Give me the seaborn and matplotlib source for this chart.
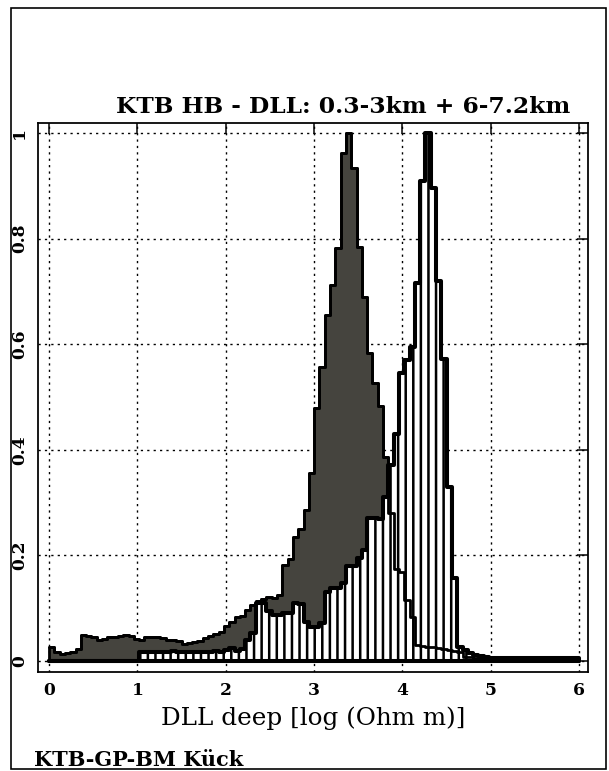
import numpy as np
import pandas as pd
import matplotlib
matplotlib.use("Agg")
import matplotlib.pyplot as plt
import seaborn as sns
from matplotlib.patches import Rectangle

# ---------------- data ----------------
BIN_WIDTH = 0.06
bin_edges = [round(i * BIN_WIDTH, 2) for i in range(101)]       # 0 ... 6
bin_centers = [round((a + b) / 2, 3) for a, b in zip(bin_edges[:-1], bin_edges[1:])]

# solid (dark) histogram, normalised to max = 1
solid_hist = [
    0.026, 0.016, 0.014, 0.015, 0.016, 0.022, 0.049, 0.048, 0.045, 0.040,
    0.041, 0.045, 0.046, 0.047, 0.049, 0.048, 0.041, 0.040, 0.045, 0.046,
    0.045, 0.044, 0.040, 0.039, 0.037, 0.032, 0.033, 0.036, 0.037, 0.044,
    0.047, 0.051, 0.054, 0.066, 0.073, 0.083, 0.086, 0.096, 0.105, 0.113,
    0.118, 0.121, 0.120, 0.125, 0.181, 0.194, 0.235, 0.250, 0.286, 0.356,
    0.480, 0.557, 0.655, 0.712, 0.782, 0.962, 1.000, 0.934, 0.785, 0.690,
    0.583, 0.526, 0.482, 0.387, 0.280, 0.175, 0.169, 0.115, 0.083, 0.031,
    0.029, 0.027, 0.026, 0.024, 0.022, 0.020, 0.018, 0.016, 0.008, 0.007,
    0.006, 0.006, 0.005, 0.005, 0.005, 0.006, 0.006, 0.005, 0.005, 0.005,
    0.006, 0.006, 0.005, 0.005, 0.005, 0.005, 0.005, 0.005, 0.004, 0.004,
]

# hatched (white) histogram, normalised to max = 1
hatched_hist = [
    0.000, 0.000, 0.000, 0.000, 0.000, 0.000, 0.000, 0.000, 0.000, 0.000,
    0.000, 0.000, 0.000, 0.000, 0.000, 0.000, 0.000, 0.017, 0.016, 0.017,
    0.017, 0.016, 0.017, 0.018, 0.017, 0.016, 0.017, 0.017, 0.016, 0.017,
    0.017, 0.018, 0.017, 0.020, 0.024, 0.018, 0.022, 0.040, 0.053, 0.110,
    0.110, 0.095, 0.087, 0.087, 0.090, 0.090, 0.110, 0.107, 0.074, 0.065,
    0.065, 0.072, 0.130, 0.138, 0.138, 0.148, 0.180, 0.180, 0.195, 0.210,
    0.270, 0.270, 0.268, 0.310, 0.372, 0.430, 0.545, 0.570, 0.595, 0.716,
    0.910, 1.000, 0.895, 0.720, 0.572, 0.330, 0.158, 0.027, 0.020, 0.015,
    0.012, 0.010, 0.007, 0.006, 0.006, 0.006, 0.006, 0.006, 0.006, 0.006,
    0.006, 0.006, 0.006, 0.006, 0.006, 0.006, 0.006, 0.006, 0.006, 0.006,
]

x_ticks = [0, 1, 2, 3, 4, 5, 6]
x_tick_labels = ["0", "1", "2", "3", "4", "5", "6"]
y_ticks = [0, 0.2, 0.4, 0.6, 0.8, 1.0]
y_tick_labels = ["0", "0.2", "0.4", "0.6", "0.8", "1"]

title = "KTB HB - DLL: 0.3-3km + 6-7.2km"
x_label = "DLL deep [log (Ohm m)]"
footer = "KTB-GP-BM Kück"

df = pd.DataFrame({"dll": bin_centers, "solid": solid_hist, "hatched": hatched_hist})

# ---------------- style ----------------
sns.set_theme(style="white")
plt.rcParams["font.family"] = ["DejaVu Serif", "DejaVu Sans"]
plt.rcParams["hatch.linewidth"] = 2.0
plt.rcParams["hatch.color"] = "black"
for key in ["text.color", "axes.labelcolor", "xtick.color", "ytick.color"]:
    plt.rcParams[key] = "black"

DPI = 91
fig = plt.figure(figsize=(609 / DPI, 771 / DPI), dpi=DPI)
ax = fig.add_axes([38 / 609, 1 - 672 / 771, 550 / 609, 549 / 771])

dark = "#45443e"

# solid histogram (fill)
sns.histplot(data=df, x="dll", weights="solid", bins=bin_edges, element="step",
             fill=True, facecolor=dark, edgecolor="black", linewidth=2.2,
             alpha=1, ax=ax, zorder=1)
# hatched histogram on top
sns.histplot(data=df, x="dll", weights="hatched", bins=bin_edges, element="step",
             fill=True, facecolor="white", edgecolor="black", linewidth=3.2,
             hatch="||", alpha=1, ax=ax, zorder=2)
# outline of the solid histogram, visible through the hatched one
sns.histplot(data=df, x="dll", weights="solid", bins=bin_edges, element="step",
             fill=False, color="black", linewidth=2.2, ax=ax, zorder=3)

ax.set_xlim(-0.125, 6.10)
ax.set_ylim(-0.021, 1.019)
ax.set_xticks(x_ticks)
ax.set_xticklabels(x_tick_labels, fontsize=13.5, fontweight="bold")
ax.set_yticks(y_ticks)
ax.set_yticklabels(y_tick_labels, fontsize=13.5, fontweight="bold",
                   rotation=90, va="center")
ax.tick_params(direction="in", length=9, width=1.2, top=True, right=True)
ax.tick_params(axis="x", pad=8)
ax.tick_params(axis="y", pad=8)

ax.set_axisbelow(True)
ax.grid(True, color="black", linestyle=(0, (1.6, 3.0)), linewidth=1.1)
for s in ax.spines.values():
    s.set_visible(True)
    s.set_color("black")
    s.set_linewidth(1.4)

ax.set_ylabel("")
ax.set_xlabel(x_label, fontsize=19.5, labelpad=6)
ax.set_title(title, fontsize=18.5, fontweight="bold", pad=8, x=0.555)

fig.text(34 / 609, 1 - 760 / 771, footer, ha="left", va="center",
         fontsize=16.5, fontweight="bold")

fig.patches.append(Rectangle((11 / 609, 2 / 771), 595 / 609, 761 / 771,
                             transform=fig.transFigure, fill=False,
                             edgecolor="black", linewidth=1.3))

fig.savefig("out.png", dpi=DPI)
